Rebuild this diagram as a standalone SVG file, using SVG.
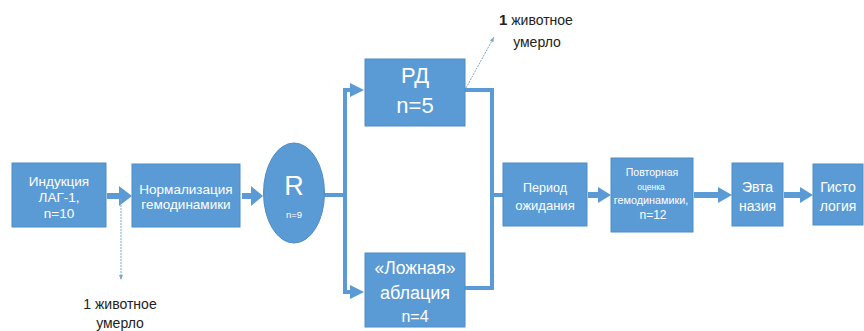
<svg xmlns="http://www.w3.org/2000/svg" width="864" height="331" viewBox="0 0 864 331">
  <defs>
    <style>
      .box { fill: #5b9bd5; stroke: #4f8cc4; stroke-width: 1; }
      .lbl { fill: #ffffff; font-family: "Liberation Sans", Arial, sans-serif; text-anchor: middle; }
      .note { fill: #222222; font-family: "Liberation Sans", Arial, sans-serif; font-size: 14px; }
      .wire { fill: none; stroke: #5b9bd5; stroke-width: 4; }
      .fat { fill: #5b9bd5; }
      .thin { fill: none; stroke: #7fa6cc; stroke-width: 1; stroke-dasharray: 2 1; }
    </style>
    <marker id="tipThin" viewBox="0 0 10 10" refX="10" refY="5" markerWidth="5" markerHeight="5" orient="auto" markerUnits="userSpaceOnUse">
      <path d="M0,1 L10,5 L0,9 z" fill="#7fa6cc"/>
    </marker>
  </defs>

  <rect width="864" height="331" fill="#ffffff"/>

  <!-- connectors -->
  <g id="connectors">
    <!-- block arrows between stages -->
    <path class="fat" d="M107,193 L119,193 L119,186 L132,196 L119,206 L119,199 L107,199 z"/>
    <path class="fat" d="M242,193 L251,193 L251,186 L263,196 L251,206 L251,199 L242,199 z"/>
    <!-- split from R to both arms -->
    <line class="wire" x1="324" y1="195" x2="345" y2="195"/>
    <line class="wire" x1="345" y1="88" x2="345" y2="294"/>
    <path class="wire" d="M343,90 L351,90"/>
    <path class="fat" d="M350,83 L364,90 L350,97 z"/>
    <path class="wire" d="M343,292 L351,292"/>
    <path class="fat" d="M350,285 L364,292 L350,299 z"/>
    <!-- join from both arms -->
    <path class="wire" d="M465,90 L492,90 L492,288 L465,288"/>
    <line class="wire" x1="492" y1="195" x2="503" y2="195"/>
    <!-- later block arrows -->
    <path class="fat" d="M588,192 L598,192 L598,187 L611,195 L598,203 L598,198 L588,198 z"/>
    <path class="fat" d="M694,192 L718,192 L718,187 L732,195 L718,203 L718,198 L694,198 z"/>
    <path class="fat" d="M784,192 L800,192 L800,187 L813,195 L800,203 L800,198 L784,198 z"/>
    <!-- loss annotations -->
    <line class="thin" x1="121" y1="199" x2="121" y2="280" marker-end="url(#tipThin)"/>
    <line class="thin" x1="466" y1="88" x2="494" y2="37" marker-end="url(#tipThin)"/>
  </g>

  <g id="induction">
    <rect class="box" x="12" y="163" width="94" height="64"/>
    <text class="lbl" font-size="13.5" x="59" y="186">Индукция</text>
    <text class="lbl" font-size="13.5" x="59" y="202">ЛАГ-1,</text>
    <text class="lbl" font-size="13.5" x="59" y="218">n=10</text>
  </g>

  <g id="normalization">
    <rect class="box" x="132" y="164" width="108" height="63"/>
    <text class="lbl" font-size="13.5" x="186" y="194">Нормализация</text>
    <text class="lbl" font-size="13.5" x="186" y="209">гемодинамики</text>
  </g>

  <g id="randomization">
    <ellipse class="box" cx="294" cy="193" rx="30.5" ry="50"/>
    <text class="lbl" font-size="27" x="294" y="195">R</text>
    <text class="lbl" font-size="9.5" x="294" y="218">n=9</text>
  </g>

  <g id="rd">
    <rect class="box" x="365" y="59" width="100" height="67"/>
    <text class="lbl" font-size="22" x="415" y="83">РД</text>
    <text class="lbl" font-size="22" x="415" y="113">n=5</text>
  </g>

  <g id="sham">
    <rect class="box" x="365" y="253" width="100" height="74"/>
    <text class="lbl" font-size="17.5" x="415" y="274">«Ложная»</text>
    <text class="lbl" font-size="18" x="415" y="299">аблация</text>
    <text class="lbl" font-size="16" x="415" y="322">n=4</text>
  </g>

  <g id="waiting">
    <rect class="box" x="503" y="163" width="84" height="63"/>
    <text class="lbl" font-size="12.5" x="545" y="192">Период</text>
    <text class="lbl" font-size="13" x="545" y="210">ожидания</text>
  </g>

  <g id="reassessment">
    <rect class="box" x="611" y="158" width="82" height="74"/>
    <text class="lbl" font-size="10.5" x="652" y="176">Повторная</text>
    <text class="lbl" font-size="8.5" x="651" y="190">оценка</text>
    <text class="lbl" font-size="10.8" x="651" y="204">гемодинамики,</text>
    <text class="lbl" font-size="12" x="653" y="219">n=12</text>
  </g>

  <g id="euthanasia">
    <rect class="box" x="732" y="163" width="51" height="63"/>
    <text class="lbl" font-size="14" x="757.5" y="192">Эвта</text>
    <text class="lbl" font-size="14" x="757.5" y="211">назия</text>
  </g>

  <g id="histology">
    <rect class="box" x="813" y="164" width="50" height="61"/>
    <text class="lbl" font-size="14" x="838" y="192">Гисто</text>
    <text class="lbl" font-size="14" x="838" y="211">логия</text>
  </g>

  <g id="note-top">
    <text class="note" x="499" y="25"><tspan font-weight="bold" font-size="15">1</tspan> животное</text>
    <text class="note" x="537" y="47" text-anchor="middle">умерло</text>
  </g>

  <g id="note-bottom">
    <text class="note" x="120" y="309" text-anchor="middle">1 животное</text>
    <text class="note" x="120" y="328" text-anchor="middle">умерло</text>
  </g>
</svg>
